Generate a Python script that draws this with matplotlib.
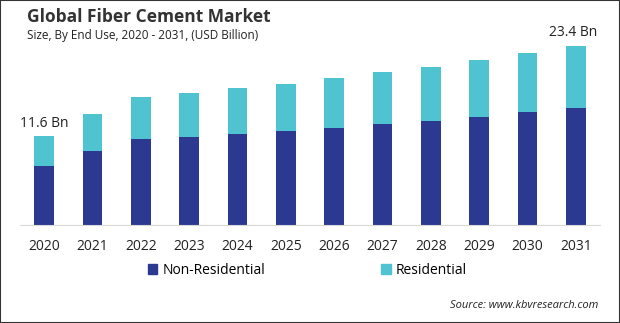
import numpy as np
import matplotlib.pyplot as plt
from matplotlib.patches import Rectangle, Patch

years = ["2020", "2021", "2022", "2023", "2024", "2025",
         "2026", "2027", "2028", "2029", "2030", "2031"]
non_residential = [7.7, 9.7, 11.2, 11.5, 11.9, 12.3, 12.7, 13.2, 13.6, 14.1, 14.8, 15.3]
totals = [11.6, 14.5, 16.7, 17.2, 17.9, 18.4, 19.2, 20.0, 20.6, 21.6, 22.5, 23.4]
residential = [t - n for t, n in zip(totals, non_residential)]

navy = "#2b3990"
teal = "#4fc3cf"
plt.rcParams["font.family"] = ["Open Sans", "DejaVu Sans"]

W, H = 620, 323
fig = plt.figure(figsize=(W / 100, H / 100), dpi=100)
ax = fig.add_axes([20 / W, 98 / H, 580 / W, 199 / H])

x = np.arange(len(years))
ax.bar(x, non_residential, width=0.41, color=navy)
ax.bar(x, residential, width=0.41, bottom=non_residential, color=teal)

ax.set_xlim(-0.5, 11.5)
ax.set_ylim(0, 26)
for s in ["top", "right", "left"]:
    ax.spines[s].set_visible(False)
ax.spines["bottom"].set_color("#d9d9d9")
ax.set_yticks([])
ax.set_xticks(x)
ax.set_xticklabels(years, fontsize=10, color="#222222")
ax.tick_params(axis="x", length=0, pad=10)

ax.annotate("11.6 Bn", (x[0], totals[0]), xytext=(0, 4), textcoords="offset points",
            ha="center", va="bottom", fontsize=10, color="#222222")
ax.annotate("23.4 Bn", (x[-1], totals[-1]), xytext=(-2, 4), textcoords="offset points",
            ha="center", va="bottom", fontsize=10, color="#222222")

fig.text(27 / W, 1 - 17 / H, "Global Fiber Cement Market", fontsize=12.5,
         fontweight="bold", color="#333333", va="center")
fig.text(27 / W, 1 - 36 / H, "Size, By End Use, 2020 - 2031, (USD Billion)", fontsize=8.5,
         color="#222222", va="center")

handles = [Patch(color=navy, label="Non-Residential"), Patch(color=teal, label="Residential")]
fig.legend(handles=handles, loc="center left", bbox_to_anchor=(135 / W, 1 - 270 / H),
           ncol=2, frameon=False, fontsize=10, handlelength=0.7, handleheight=0.7,
           handletextpad=0.4, columnspacing=8.3)

fig.text(598 / W, 1 - 306 / H, "Source: www.kbvresearch.com", fontsize=8,
         style="italic", color="#222222", ha="right", va="center")

fig.patches.append(Rectangle((0, 0), 1, 1, transform=fig.transFigure, fill=False,
                             edgecolor="#333333", linewidth=1.5))

fig.savefig("out.png", dpi=100)
